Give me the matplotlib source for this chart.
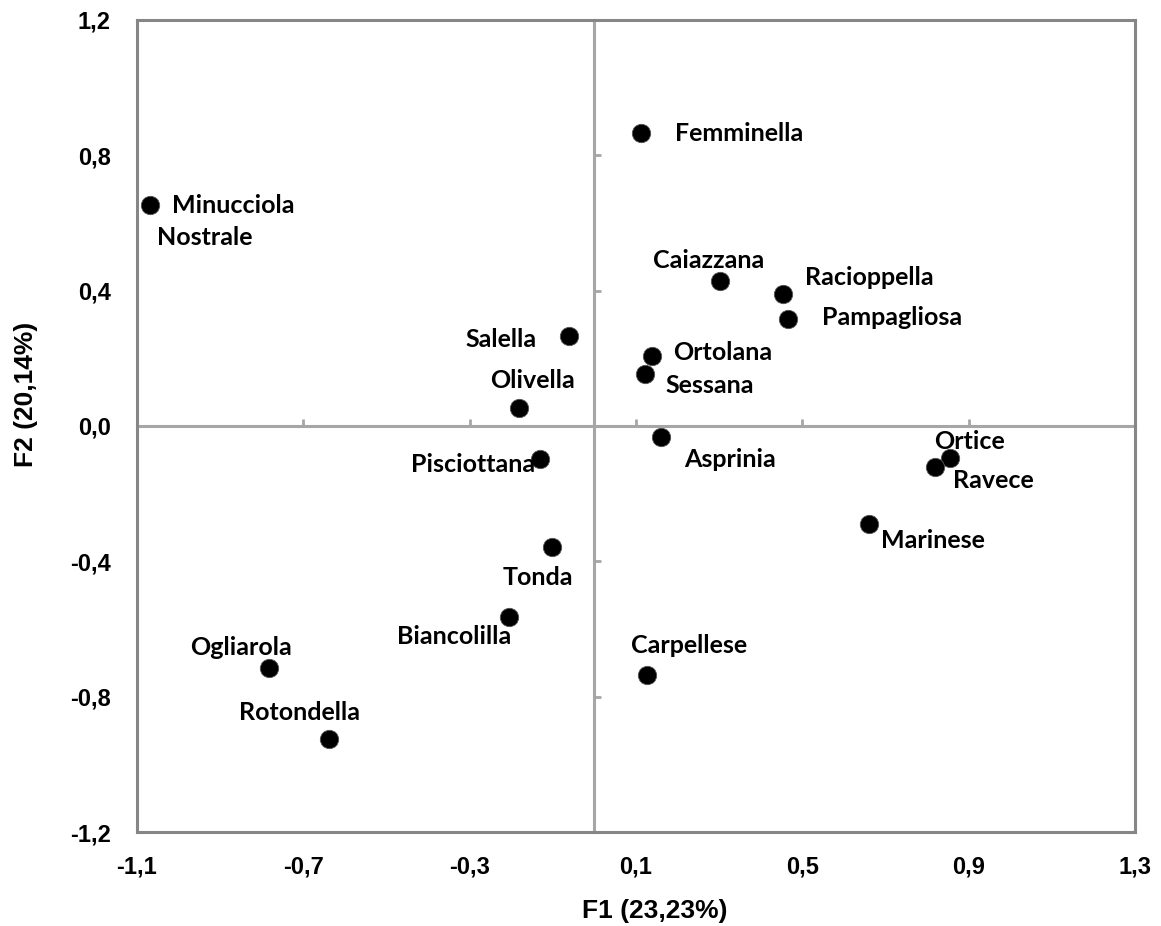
import numpy as np
import matplotlib
matplotlib.use("Agg")
import matplotlib.pyplot as plt

# Cultivar scores on the first two factors
cultivars = ["Minucciola\nNostrale", "Femminella", "Caiazzana", "Racioppella",
             "Pampagliosa", "Salella", "Ortolana", "Sessana", "Olivella",
             "Asprinia", "Pisciottana", "Ortice", "Ravece", "Marinese",
             "Tonda", "Biancolilla", "Carpellese", "Ogliarola", "Rotondella"]
f1 = [-1.069, 0.112, 0.302, 0.454, 0.466, -0.061, 0.139, 0.122, -0.181,
      0.160, -0.131, 0.855, 0.819, 0.660, -0.102, -0.205, 0.127, -0.783, -0.638]
f2 = [0.653, 0.866, 0.429, 0.390, 0.316, 0.266, 0.207, 0.154, 0.053,
      -0.033, -0.098, -0.095, -0.121, -0.290, -0.358, -0.565, -0.736, -0.716, -0.925]

xticks = [-1.1, -0.7, -0.3, 0.1, 0.5, 0.9, 1.3]
yticks = [-1.2, -0.8, -0.4, 0.0, 0.4, 0.8, 1.2]

# label offsets in pixels and alignment
offsets = {
    "Minucciola\nNostrale": (22, 0, "left"),
    "Femminella": (34, -1, "left"),
    "Caiazzana": (-11, 20, "center"),
    "Racioppella": (22, 16, "left"),
    "Pampagliosa": (34, 2, "left"),
    "Salella": (-32, -4, "right"),
    "Ortolana": (21, 3, "left"),
    "Sessana": (20, -12, "left"),
    "Olivella": (13, 28, "center"),
    "Asprinia": (23, -22, "left"),
    "Pisciottana": (-5, -5, "right"),
    "Ortice": (-16, 17, "left"),
    "Ravece": (18, -14, "left"),
    "Marinese": (12, -16, "left"),
    "Tonda": (-14, -30, "center"),
    "Biancolilla": (2, -19, "right"),
    "Carpellese": (42, 30, "center"),
    "Ogliarola": (-28, 21, "center"),
    "Rotondella": (-30, 26, "center"),
}

label_font = ["Lato", "DejaVu Sans"]
tick_font = ["Liberation Sans", "DejaVu Sans"]

fig = plt.figure(figsize=(11.61, 9.26), dpi=100)
ax = fig.add_axes([0.118, 0.1015, 0.8596, 0.877])

ax.set_xlim(xticks[0], xticks[-1])
ax.set_ylim(yticks[0], yticks[-1])

# outer frame
for sp in ax.spines.values():
    sp.set_color("#868686")
    sp.set_linewidth(2.2)

ax.set_xticks(xticks)
ax.set_yticks(yticks)
ax.set_xticklabels([f"{v:.1f}".replace(".", ",") for v in xticks],
                   family=tick_font, fontweight="bold", fontsize=17)
ax.set_yticklabels([f"{v:.1f}".replace(".", ",") for v in yticks],
                   family=tick_font, fontweight="bold", fontsize=17)
ax.tick_params(axis="x", length=0, pad=17)
ax.tick_params(axis="y", length=0, pad=19)

# central axes crossing at the origin, with their own small tick marks
x0 = (0 - xticks[0]) / (xticks[-1] - xticks[0])
y0 = (0 - yticks[0]) / (yticks[-1] - yticks[0])
cx = ax.secondary_xaxis(y0)
cx.set_xticks([t for t in xticks[1:-1]])
cx.tick_params(axis="x", direction="out", length=5, width=2, color="#a6a6a6",
               labeltop=False, labelbottom=False)
for side in ("top", "bottom"):
    cx.spines[side].set_color("#a6a6a6")
    cx.spines[side].set_linewidth(2.2)

cy = ax.secondary_yaxis(x0)
cy.set_yticks([t for t in yticks[1:-1] if t != 0.0])
cy.tick_params(axis="y", direction="in", length=5, width=2, color="#a6a6a6",
               labelleft=False, labelright=False)
for side in ("left", "right"):
    cy.spines[side].set_color("#a6a6a6")
    cy.spines[side].set_linewidth(2.2)

ax.scatter(f1, f2, s=175, color="black", edgecolors="#555555", linewidths=0.6, zorder=3)

for name, x, y in zip(cultivars, f1, f2):
    dx, dy, ha = offsets[name]
    lines = name.split("\n")
    for i, line in enumerate(lines):
        # second line sits a little left, one line height down
        ax.annotate(line, (x, y), xytext=(dx - 15 * i, dy - 32 * i),
                    textcoords="offset pixels", ha=ha, va="center",
                    family=label_font, fontweight="bold", fontsize=18)

ax.set_xlabel("F1 (23,23%)", family=tick_font, fontweight="bold", fontsize=19)
ax.set_ylabel("F2 (20,14%)", family=tick_font, fontweight="bold", fontsize=19)
ax.xaxis.set_label_coords(0.519, -0.082)
ax.yaxis.set_label_coords(-0.099, 0.539)

fig.savefig("out.png", dpi=100)
